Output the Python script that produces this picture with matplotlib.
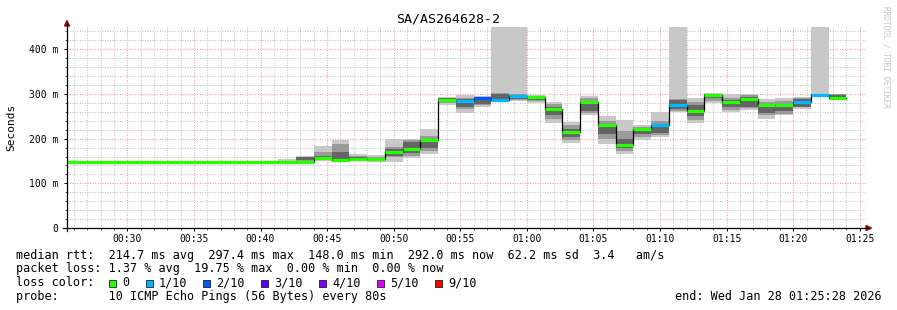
import matplotlib
matplotlib.use('Agg')
import matplotlib.pyplot as plt
from matplotlib.lines import Line2D
from matplotlib.patches import Polygon, Rectangle
import numpy as np

# ---- data ----
step_sec = 80
first_step = 25 * 60 + 20          # 00:25:20, first 80 s slot
view_start = 25 * 60 + 28          # 00:25:28
view_end = 85 * 60 + 28            # 01:25:28

median = [148] * 14 + [156, 153, 155, 154, 170, 177, 196, 287, 285, 290,
                       287, 295, 294, 266, 216, 281, 231, 185, 222, 230,
                       276, 263, 298, 283, 288, 276, 275, 281, 297, 292]
loss = [0] * 22 + [1, 2, 1, 1, 0, 0, 0, 0, 0, 0, 0, 1,
                   1, 0, 0, 0, 0, 0, 0, 1, 1, 0]

outer_lo = [148] * 14 + [150, 148, 149, 148, 148, 157, 165, 276, 258, 271,
                         283, 285, 279, 235, 191, 252, 188, 165, 197, 204,
                         260, 235, 279, 260, 265, 244, 252, 267, 293, 286]
outer_hi = [148] * 9 + [151, 148, 148, 154, 161] + \
           [183, 197, 165, 163, 200, 200, 221, 293, 297, 296,
            460, 460, 297, 282, 238, 295, 250, 241, 230, 260,
            460, 290, 302, 300, 301, 288, 290, 294, 460, 301]
mid_lo = [148] * 13 + [150] + [152, 150, 150, 149, 158, 162, 172, 280, 266, 276,
                               285, 287, 284, 245, 197, 257, 200, 172, 203, 208,
                               263, 242, 285, 265, 268, 252, 256, 270, 295, 287]
mid_hi = [148] * 13 + [160] + [170, 187, 162, 160, 182, 196, 205, 292, 292, 293,
                               302, 300, 296, 278, 230, 290, 240, 218, 227, 240,
                               288, 283, 301, 292, 297, 282, 284, 291, 300, 299]
inner_lo = [148] * 13 + [152] + [154, 151, 152, 150, 162, 168, 180, 282, 272, 278,
                                 287, 289, 287, 252, 203, 262, 210, 178, 210, 213,
                                 266, 250, 290, 270, 272, 258, 262, 272, 295, 288]
inner_hi = [148] * 13 + [158] + [161, 170, 159, 157, 176, 193, 200, 291, 288, 291,
                                 300, 297, 295, 272, 222, 280, 228, 200, 222, 228,
                                 286, 275, 299, 287, 293, 276, 278, 288, 299, 297]

loss_labels = ['0', '1/10', '2/10', '3/10', '4/10', '5/10', '9/10']
loss_colors = ['#26ff00', '#00b8ff', '#0059ff', '#5e00ff', '#7e00ff', '#dd00ff', '#ff0000']
loss_color_of = {0: '#26ff00', 1: '#00b8ff', 2: '#0059ff', 3: '#5e00ff',
                 4: '#7e00ff', 5: '#dd00ff', 9: '#ff0000'}

title = 'SA/AS264628-2'
stat_lines = [
    'median rtt:  214.7 ms avg  297.4 ms max  148.0 ms min  292.0 ms now  62.2 ms sd  3.4   am/s',
    'packet loss: 1.37 % avg  19.75 % max  0.00 % min  0.00 % now',
]
probe_line = 'probe:       10 ICMP Echo Pings (56 Bytes) every 80s'
end_line = 'end: Wed Jan 28 01:25:28 2026'

# ---- figure ----
W, H = 897, 310
mono = 'DejaVu Sans Mono'
plt.rcParams['font.family'] = mono

fig = plt.figure(figsize=(W / 100, H / 100), dpi=100)
fig.patch.set_facecolor('white')


def fx(x):
    return x / W


def fy(y):
    return 1 - y / H


ax = fig.add_axes([fx(67), fy(228), fx(866) - fx(67), fy(27) - fy(228)])
ax.set_facecolor('white')

n = len(median)
x0 = (first_step + np.arange(n) * step_sec) / 60.0
w = step_sec / 60.0

# smoke
for lo, hi, col in [(outer_lo, outer_hi, '#c8c8c8'),
                    (mid_lo, mid_hi, '#9a9a9a'),
                    (inner_lo, inner_hi, '#646464')]:
    lo = np.array(lo, float)
    hi = np.array(hi, float)
    ax.bar(x0, hi - lo, bottom=lo, width=w, align='edge', color=col,
           linewidth=0, zorder=2)

# median: black step line plus loss coloured bars
med = np.array(median, float)
ax.step(np.append(x0, x0[-1] + w), np.append(med, med[-1]), where='post',
        color='black', lw=0.9, zorder=3)
ax.hlines(med, x0, x0 + w, colors=[loss_color_of[l] for l in loss],
          lw=2.3, zorder=4)

ax.set_xlim(view_start / 60.0, view_end / 60.0)
ax.set_ylim(0, 450)

major_x = np.arange(30, 86, 5)
ax.set_xticks(major_x)
ax.set_xticklabels(['%02d:%02d' % (m // 60, m % 60) for m in major_x])
ax.set_xticks(np.arange(26, 86, 1), minor=True)
ax.set_yticks([0, 100, 200, 300, 400])
ax.set_yticklabels(['0', '100 m', '200 m', '300 m', '400 m'])
ax.set_yticks(np.arange(20, 450, 20), minor=True)

ax.grid(which='minor', color='#c4c4c4', lw=0.75, linestyle=(0, (1, 1.4)))
ax.grid(which='major', color='#ee9c9c', lw=0.75, linestyle=(0, (1, 1.4)))
ax.set_axisbelow(True)

for s in ax.spines.values():
    s.set_visible(False)
ax.tick_params(which='major', direction='out', length=2.5, width=0.7,
               labelsize=7, colors='black')
ax.tick_params(which='minor', direction='out', length=1.5, width=0.7,
               colors='#555555')
ax.tick_params(axis='x', which='major', pad=1.6)
ax.tick_params(axis='y', which='major', pad=3.5)

# axes lines and arrows
fig.add_artist(Line2D([fx(63), fx(868)], [fy(228), fy(228)], color='black', lw=0.9))
fig.add_artist(Line2D([fx(67), fx(67)], [fy(231), fy(24)], color='black', lw=0.9))
fig.add_artist(Polygon([(fx(64.5), fy(26)), (fx(69.5), fy(26)), (fx(67), fy(20.5))],
                       closed=True, color='#8b1010', transform=fig.transFigure))
fig.add_artist(Polygon([(fx(866), fy(225.5)), (fx(866), fy(230.5)), (fx(871.5), fy(228))],
                       closed=True, color='#8b1010', transform=fig.transFigure))

# texts
fig.text(fx(448), fy(19), title, ha='center', va='center', fontsize=9.5)
fig.text(fx(11), fy(127), 'Seconds', rotation=90, ha='center', va='center', fontsize=8)
fig.text(fx(886), fy(6), 'RRDTOOL / TOBI OETIKER', rotation=270, ha='center',
         va='top', fontsize=5.6, color='#c4c4c4')

legend_size = 8.5
fig.text(fx(16), fy(258.6), stat_lines[0], ha='left', va='baseline', fontsize=legend_size)
fig.text(fx(16), fy(272.3), stat_lines[1], ha='left', va='baseline', fontsize=legend_size)
fig.text(fx(16), fy(286), 'loss color:', ha='left', va='baseline', fontsize=legend_size)
box_x = [109, 145.7, 203.3, 261, 319.3, 377.3, 435]
for bx, lab, col in zip(box_x, loss_labels, loss_colors):
    fig.add_artist(Rectangle((fx(bx), fy(286.7)), fx(7), 7 / H, facecolor=col,
                             edgecolor='#202020', lw=0.6, transform=fig.transFigure))
    fig.text(fx(bx + 13), fy(286), lab, ha='left', va='baseline', fontsize=legend_size)
fig.text(fx(16), fy(300.3), probe_line, ha='left', va='baseline', fontsize=legend_size)
fig.text(fx(882), fy(300.3), end_line, ha='right', va='baseline', fontsize=legend_size)

fig.savefig('out.png', dpi=100, facecolor='white')
